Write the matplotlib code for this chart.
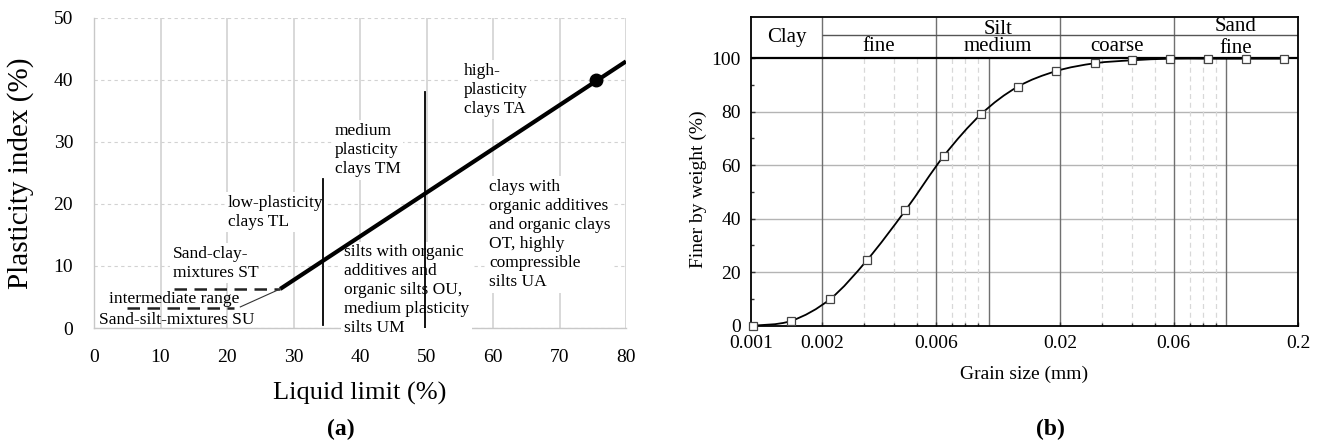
import numpy as np
import matplotlib
matplotlib.use("Agg")
import matplotlib.pyplot as plt
from matplotlib.path import Path
from matplotlib.patches import PathPatch
from matplotlib.ticker import FixedLocator, NullFormatter

plt.rcParams['font.family'] = ['Liberation Serif', 'DejaVu Serif']

W, H = 1324, 444

# (a) plasticity chart: boundary lines and the tested sample
a_line_ll = [28, 80]
a_line_pi = [6.3, 43]
st_ll = [12, 28]
st_pi = [6.3, 6.3]
su_ll = [5, 21]
su_pi = [3.3, 3.3]
su_link_ll = [22, 28]
su_link_pi = [3.4, 6.3]
div_low_ll = [34.5, 34.5]
div_low_pi = [0.5, 24]
div_med_ll = [49.7, 49.7]
div_med_pi = [0, 38]
sample_ll = [75.5]
sample_pi = [40]

# (b) grain size distribution
grain_mm = [0.00102, 0.00148, 0.00216, 0.00309, 0.00447, 0.00648, 0.00929,
            0.01325, 0.0193, 0.028, 0.0401, 0.058, 0.0836, 0.121, 0.1745]
finer_pct = [0, 1.8, 10, 24.6, 43.1, 63.4, 79, 89.3, 95.2, 98.1, 99.2,
             99.8, 99.8, 99.8, 99.8]

x_major = [0.001, 0.002, 0.006, 0.02, 0.06, 0.2]
x_major_labels = ['0.001', '0.002', '0.006', '0.02', '0.06', '0.2']
x_minor = [0.003, 0.004, 0.005, 0.007, 0.008, 0.009,
           0.03, 0.04, 0.05, 0.07, 0.08, 0.09]
boundaries_full = [0.002, 0.006, 0.02, 0.06]
boundaries_plot = [0.01, 0.1]


def px_axes(fig, left, top, right, bottom):
    return fig.add_axes([left / W, 1 - bottom / H, (right - left) / W, (bottom - top) / H])


def smooth_path(xs, ys, ymax=100):
    # Catmull-Rom through the points in log-x space, as cubic Bezier segments
    pts = np.column_stack([np.log10(xs), np.asarray(ys, float)])
    verts = [pts[0]]
    codes = [Path.MOVETO]
    n = len(pts)
    for i in range(n - 1):
        p0 = pts[max(i - 1, 0)]
        p1 = pts[i]
        p2 = pts[i + 1]
        p3 = pts[min(i + 2, n - 1)]
        c1 = p1 + (p2 - p0) / 6
        c2 = p2 - (p3 - p1) / 6
        verts += [c1, c2, p2]
        codes += [Path.CURVE4] * 3
    verts = np.array(verts)
    verts[:, 1] = np.minimum(verts[:, 1], ymax)
    verts[:, 0] = 10 ** verts[:, 0]
    return Path(verts, codes)


fig = plt.figure(figsize=(W / 100, H / 100), dpi=100)

# ---------- (a) ----------
ax = px_axes(fig, 94, 18, 626, 328)
ax.set_xlim(0, 80)
ax.set_ylim(0, 50)
ax.set_xticks(range(0, 81, 10))
ax.set_yticks(range(0, 51, 10))
ax.tick_params(length=0, labelsize=14)
ax.tick_params(axis='x', pad=15)
ax.tick_params(axis='y', pad=15)
for s in ['top', 'right']:
    ax.spines[s].set_visible(False)
for s in ['left', 'bottom']:
    ax.spines[s].set_color('#c8c8c8')
    ax.spines[s].set_linewidth(1.0)
ax.set_axisbelow(True)
ax.grid(axis='x', color='#d2d2d2', lw=1.2, ls='-')
ax.grid(axis='y', color='#d2d2d2', lw=0.8, ls=(0, (3, 3)))

ax.plot(a_line_ll, a_line_pi, color='black', lw=3, solid_capstyle='butt', zorder=4)
ax.plot(st_ll, st_pi, color='#222222', lw=1.8, ls=(0, (5, 3)), zorder=4)
ax.plot(su_ll, su_pi, color='#222222', lw=1.8, ls=(0, (5, 3)), zorder=4)
ax.plot(su_link_ll, su_link_pi, color='#333333', lw=0.8, zorder=4)
ax.plot(div_low_ll, div_low_pi, color='black', lw=1.3, zorder=4)
ax.plot(div_med_ll, div_med_pi, color='black', lw=1.3, zorder=4)
ax.plot(sample_ll, sample_pi, 'o', color='black', ms=9, zorder=5)

box = dict(facecolor='white', edgecolor='none', pad=2)
txt = dict(fontsize=12.5, ha='left', va='top', linespacing=1.25, zorder=2, bbox=box)
ax.text(55.6, 42.8, 'high-\nplasticity\nclays TA', **txt)
ax.text(36.2, 33.1, 'medium\nplasticity\nclays TM', **txt)
ax.text(20.1, 21.5, 'low-plasticity\nclays TL', **txt)
ax.text(59.4, 24.0, 'clays with\norganic additives\nand organic clays\nOT, highly\ncompressible\nsilts UA', **txt)
ax.text(37.6, 13.5, 'silts with organic\nadditives and\norganic silts OU,\nmedium plasticity\nsilts UM',
        **{**txt, 'zorder': 3})
ax.text(11.9, 13.3, 'Sand-clay-\nmixtures ST', **txt)
ax.text(2.2, 4.7, 'intermediate range', fontsize=12.5, ha='left', va='center', zorder=2)
ax.text(0.7, 1.3, 'Sand-silt-mixtures SU', fontsize=12.5, ha='left', va='center', zorder=2)

fig.text(21 / W, 1 - 173 / H, 'Plasticity index (%)', rotation=90, fontsize=21,
         ha='center', va='center')
fig.text(360 / W, 1 - 393 / H, 'Liquid limit (%)', fontsize=19, ha='center', va='center')
fig.text(341 / W, 1 - 429 / H, '(a)', fontsize=17, fontweight='bold', ha='center', va='center')

# ---------- (b) ----------
bx = px_axes(fig, 750.7, 16.7, 1298, 325.7)
bx.set_xscale('log')
bx.set_xlim(0.001, 0.2)
bx.set_ylim(0, 115.5)
bx.set_xticks(x_major)
bx.set_xticklabels(x_major_labels)
bx.xaxis.set_minor_locator(FixedLocator(x_minor))
bx.xaxis.set_minor_formatter(NullFormatter())
bx.set_yticks(range(0, 101, 20))
bx.yaxis.set_minor_locator(FixedLocator(range(10, 100, 20)))
bx.tick_params(which='both', direction='in', labelsize=14, width=1, color='#333333')
bx.tick_params(which='major', length=3, pad=7)
bx.tick_params(which='minor', length=2.5)
for s in bx.spines.values():
    s.set_linewidth(1.3)

for y in [20, 40, 60, 80]:
    bx.axhline(y, color='#b4b4b4', lw=1, zorder=1)
bx.vlines(x_minor, 0, 100, color='#d8d8d8', lw=0.9, ls=(0, (4, 3)), zorder=1)
bx.vlines(boundaries_plot, 0, 100, color='#707070', lw=1, zorder=1.5)
bx.vlines(boundaries_full, 0, 115.5, color='#707070', lw=1, zorder=1.5)
bx.hlines(108.5, 0.002, 0.2, color='#555555', lw=1, zorder=1.5)
bx.axhline(100, color='black', lw=1.6, zorder=2)

bx.add_patch(PathPatch(smooth_path(grain_mm, finer_pct), fill=False, color='black',
                       lw=1.3, zorder=3))
bx.plot(grain_mm, finer_pct, 's', ms=5.5, mfc='white', mec='#444444', mew=0.9,
        zorder=4, clip_on=False)

hdr = dict(fontsize=15, ha='center', va='center', zorder=3)
bx.text(0.001414, 107.9, 'Clay', **hdr)
bx.text(0.01095, 110.6, 'Silt', **hdr)
bx.text(0.00346, 104.3, 'fine', **hdr)
bx.text(0.01095, 104.3, 'medium', **hdr)
bx.text(0.0346, 104.3, 'coarse', **hdr)
bx.text(0.1095, 112.0, 'Sand', **hdr)
bx.text(0.1095, 103.6, 'fine', **hdr)

fig.text(698 / W, 1 - 189 / H, 'Finer by weight (%)', rotation=90, fontsize=14,
         ha='center', va='center')
fig.text(1024 / W, 1 - 374 / H, 'Grain size (mm)', fontsize=14, ha='center', va='center')
fig.text(1050 / W, 1 - 429 / H, '(b)', fontsize=17, fontweight='bold', ha='center', va='center')

fig.savefig('out.png', dpi=100)
